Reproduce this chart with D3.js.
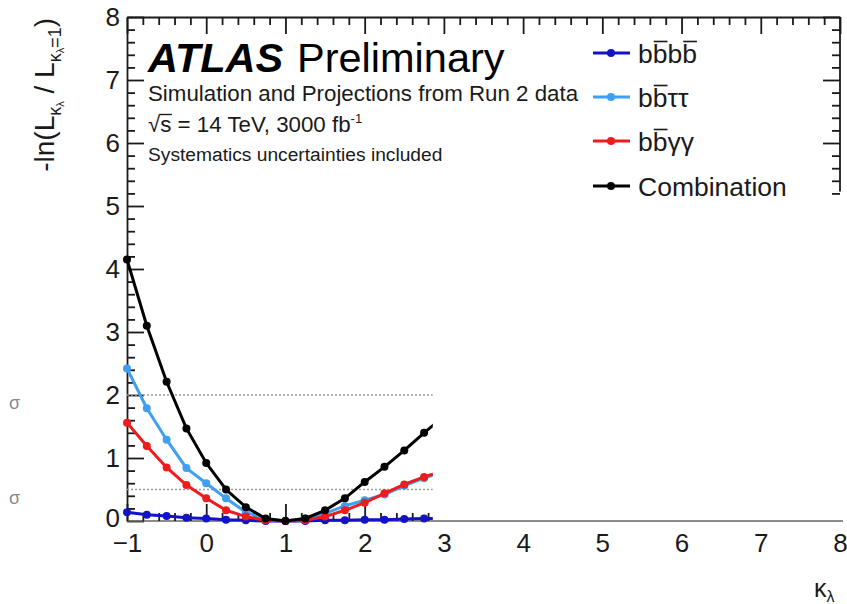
<!DOCTYPE html>
<html>
<head>
<meta charset="utf-8">
<script src="https://cdn.jsdelivr.net/npm/d3@7"></script>
<style>
  html, body { margin: 0; padding: 0; background: #fff; }
  svg { display: block; font-family: "Liberation Sans", Arial, Helvetica, sans-serif; }
</style>
</head>
<body>
<svg id="chart" width="847" height="604"></svg>
<script>
// kappa_lambda scan points
const kappa = [-1, -0.75, -0.5, -0.25, 0, 0.25, 0.5, 0.75, 1, 1.25, 1.5, 1.75, 2, 2.25, 2.5, 2.75, 3];

// -ln(L / L_SM) per channel
const bbbb        = [0.14, 0.10, 0.08, 0.05, 0.04, 0.02, 0.01, 0.00, 0.00, 0.00, 0.01, 0.01, 0.02, 0.02, 0.03, 0.04, 0.04];
const bbtautau    = [2.42, 1.79, 1.29, 0.84, 0.60, 0.36, 0.14, 0.03, 0.00, 0.04, 0.12, 0.24, 0.33, 0.42, 0.56, 0.68, 0.79];
const bbyy        = [1.56, 1.19, 0.85, 0.57, 0.36, 0.17, 0.07, 0.01, 0.00, 0.01, 0.07, 0.17, 0.29, 0.44, 0.58, 0.70, 0.80];
const combination = [4.15, 3.10, 2.21, 1.47, 0.92, 0.50, 0.22, 0.04, 0.00, 0.04, 0.17, 0.36, 0.62, 0.86, 1.12, 1.40, 1.66];

// Reference levels (1 sigma and 2 sigma)
const sigmaLevels = [0.5, 2];

// Axis ticks
const xTickLabels = [-1, 0, 1, 2, 3, 4, 5, 6, 7, 8];
const yTickLabels = [0, 1, 2, 3, 4, 5, 6, 7, 8];

const seriesNames  = ["bbbb", "bbττ", "bbγγ", "Combination"];
const seriesColors = ["#1212c8", "#3f9ff0", "#ee1c1c", "#000000"];
const seriesData   = [bbbb, bbtautau, bbyy, combination];
// characters that carry an anti-quark bar
const barredChars  = [[1, 3], [1], [1], []];

const svg = d3.select("#chart");
const FONT = '"Liberation Sans", Arial, Helvetica, sans-serif';
const INK = "#1a1a1a";

const x = d3.scaleLinear().domain([-1, 8]).range([127, 840]);
const y = d3.scaleLinear().domain([0, 8]).range([521, 17]);
const kMaxDrawn = 2.86;

const round5 = v => Math.round(v * 5) / 5;
const xMinor = d3.range(-1, 8.001, 0.2).map(round5).filter(v => Math.abs(v - Math.round(v)) > 1e-6);
const yMinor = d3.range(0, 8.001, 0.2).map(round5).filter(v => Math.abs(v - Math.round(v)) > 1e-6);

function styleAxis(g, size) {
  g.attr("font-family", FONT).attr("font-size", size);
  g.selectAll("path, line").attr("stroke", INK).attr("stroke-width", 1.8);
  g.selectAll("text").attr("fill", INK);
}

// clip for the curves region
svg.append("defs").append("clipPath").attr("id", "curveClip")
  .append("rect").attr("x", 0).attr("y", 0).attr("width", x(kMaxDrawn)).attr("height", 604);

// ---- frame: top axis ----
const gTop = svg.append("g").attr("transform", `translate(0,${y(8)})`);
gTop.call(d3.axisTop(x).tickValues(xTickLabels).tickSize(-17).tickSizeOuter(0).tickFormat(""));
gTop.append("g").call(d3.axisTop(x).tickValues(xMinor).tickSize(-8).tickSizeOuter(0).tickFormat(""))
  .select(".domain").remove();
styleAxis(gTop, 26);

// ---- right axis (upper part only) ----
const rightMin = 5.2;
const gRight = svg.append("g").attr("transform", `translate(${x(8)},0)`);
gRight.call(d3.axisRight(y).tickValues(yTickLabels.filter(v => v >= rightMin)).tickSize(-17).tickFormat(""));
gRight.append("g").call(d3.axisRight(y).tickValues(yMinor.filter(v => v >= rightMin)).tickSize(-8).tickFormat(""));
gRight.selectAll(".domain").remove();
gRight.append("line").attr("x1", 0).attr("x2", 0).attr("y1", y(8)).attr("y2", y(rightMin) - 2);
styleAxis(gRight, 26);

// ---- left axis ----
const gLeft = svg.append("g").attr("transform", `translate(${x(-1)},0)`);
gLeft.call(d3.axisLeft(y).tickValues(yTickLabels).tickSize(-17).tickPadding(7).tickSizeOuter(0));
gLeft.append("g").call(d3.axisLeft(y).tickValues(yMinor).tickSize(-8).tickSizeOuter(0).tickFormat(""))
  .select(".domain").remove();
styleAxis(gLeft, 26);
gLeft.selectAll(".tick text").filter(d => d === 0).attr("dy", "0.2em");

// ---- bottom axis ----
const gBottom = svg.append("g").attr("transform", `translate(0,${y(0)})`);
gBottom.call(d3.axisBottom(x).tickValues(xTickLabels).tickSize(0).tickPadding(13).tickSizeOuter(0)
  .tickFormat(d3.format("d")));
const gBotTicks = gBottom.append("g");
gBotTicks.append("g").call(d3.axisBottom(x).tickValues(xTickLabels.filter(v => v <= kMaxDrawn)).tickSize(-17).tickFormat(""));
gBotTicks.append("g").call(d3.axisBottom(x).tickValues(xMinor.filter(v => v <= kMaxDrawn)).tickSize(-8).tickFormat(""));
gBotTicks.selectAll(".domain").remove();
styleAxis(gBottom, 26);
gBottom.select(".domain").attr("stroke", "#666").attr("stroke-width", 1.4)
  .attr("d", `M${x(-1)},0H${x(8) + 3}`);

// ---- curves ----
const plot = svg.append("g").attr("clip-path", "url(#curveClip)");

plot.selectAll(".sigma").data(sigmaLevels).enter().append("line")
  .attr("x1", x(-1)).attr("x2", x(kMaxDrawn))
  .attr("y1", d => y(d)).attr("y2", d => y(d))
  .attr("stroke", "#9a9a9a").attr("stroke-width", 1.6).attr("stroke-dasharray", "2,2");

const line = d3.line().x(d => x(d.k)).y(d => y(d.v));
seriesData.forEach((vals, i) => {
  const pts = kappa.map((k, j) => ({ k, v: vals[j] }));
  const g = plot.append("g");
  g.append("path").datum(pts).attr("d", line)
    .attr("fill", "none").attr("stroke", seriesColors[i]).attr("stroke-width", 3);
  g.selectAll("circle").data(pts).enter().append("circle")
    .attr("cx", d => x(d.k)).attr("cy", d => y(d.v)).attr("r", 4)
    .attr("fill", seriesColors[i]);
});

// sigma labels at the left margin
svg.selectAll(".sigmaLabel").data(sigmaLevels).enter().append("text")
  .attr("x", 9).attr("y", d => y(d) + 14)
  .attr("font-family", FONT).attr("font-size", 18).attr("fill", "#8a8a8a")
  .text("σ");

// ---- labels ----
const atlas = svg.append("text").attr("x", 148).attr("y", 72)
  .attr("font-family", FONT).attr("font-size", 41.5).attr("fill", "#000");
atlas.append("tspan").attr("font-weight", "bold").attr("font-style", "italic").text("ATLAS");
atlas.append("tspan").attr("x", 297).text("Preliminary");

svg.append("text").attr("x", 148).attr("y", 101)
  .attr("font-family", FONT).attr("font-size", 22.3).attr("fill", INK)
  .text("Simulation and Projections from Run 2 data");

const energy = svg.append("text").attr("x", 148).attr("y", 132)
  .attr("font-family", FONT).attr("font-size", 22.3).attr("fill", INK);
energy.append("tspan").text("√s = 14 TeV, 3000 fb");
energy.append("tspan").attr("font-size", 13).attr("dy", -9).text("-1");
{
  const node = energy.node();
  const s0 = node.getStartPositionOfChar(1), s1 = node.getEndPositionOfChar(1);
  svg.append("line").attr("x1", s0.x - 1).attr("x2", s1.x + 0.5)
    .attr("y1", 132 - 17.5).attr("y2", 132 - 17.5)
    .attr("stroke", INK).attr("stroke-width", 1.4);
}

svg.append("text").attr("x", 148).attr("y", 161)
  .attr("font-family", FONT).attr("font-size", 19.2).attr("fill", INK)
  .text("Systematics uncertainties included");

// ---- legend ----
const legendY = [53, 97, 141, 186];
seriesNames.forEach((name, i) => {
  const cy = legendY[i];
  svg.append("line").attr("x1", 593).attr("x2", 630).attr("y1", cy).attr("y2", cy)
    .attr("stroke", seriesColors[i]).attr("stroke-width", 3);
  svg.append("circle").attr("cx", 611).attr("cy", cy).attr("r", 4).attr("fill", seriesColors[i]);
  const t = svg.append("text").attr("x", 638).attr("y", cy + 9.5)
    .attr("font-family", FONT).attr("font-size", 26.5).attr("fill", INK).text(name);
  const node = t.node();
  barredChars[i].forEach(ci => {
    const a = node.getStartPositionOfChar(ci), b = node.getEndPositionOfChar(ci);
    svg.append("line").attr("x1", a.x + 1).attr("x2", b.x)
      .attr("y1", cy + 9.5 - 21).attr("y2", cy + 9.5 - 21)
      .attr("stroke", INK).attr("stroke-width", 1.6);
  });
});

// ---- axis titles ----
const yTitle = svg.append("text")
  .attr("transform", "translate(54,18) rotate(-90)")
  .attr("text-anchor", "end")
  .attr("font-family", FONT).attr("font-size", 28).attr("fill", INK);
yTitle.append("tspan").text("-ln(L");
yTitle.append("tspan").attr("font-size", 18).attr("dy", 7).text("κ");
yTitle.append("tspan").attr("font-size", 11).attr("dy", 3).text("λ");
yTitle.append("tspan").attr("dy", -10).text(" / L");
yTitle.append("tspan").attr("font-size", 18).attr("dy", 7).text("κ");
yTitle.append("tspan").attr("font-size", 11).attr("dy", 3).text("λ");
yTitle.append("tspan").attr("font-size", 18).attr("dy", -3).text("=1");
yTitle.append("tspan").attr("dy", -7).text(")");

const xTitle = svg.append("text").attr("x", 814).attr("y", 597)
  .attr("font-family", FONT).attr("font-size", 25).attr("fill", INK);
xTitle.append("tspan").text("κ");
xTitle.append("tspan").attr("font-size", 16).attr("dy", 5).text("λ");
</script>
</body>
</html>
